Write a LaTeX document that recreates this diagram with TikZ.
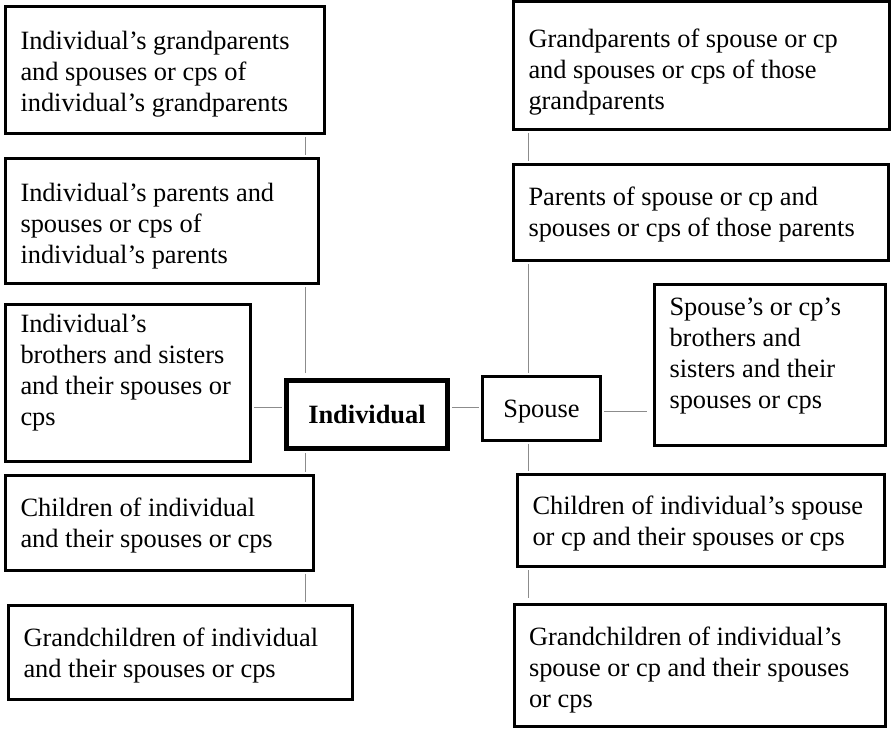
\documentclass[tikz,border=0pt]{standalone}
\usepackage{fontspec}
\setmainfont{Liberation Serif}
\usepackage{xcolor}
\usepackage{tikz}
\usetikzlibrary{positioning,calc}
\definecolor{linkgray}{RGB}{140,140,140}

\begin{document}
\begin{tikzpicture}[x=1pt, y=-1pt,
    every node/.style={font=\fontsize{26.4}{31}\selectfont},
    relbox/.style={draw=black, line width=3pt, fill=white, inner xsep=15pt, inner ysep=0pt, align=flush left},
    link/.style={linkgray, line width=1pt, shorten <=2pt, shorten >=2pt}]
  \useasboundingbox (0,0) rectangle (891,730);
  \coordinate (lt) at (305,0); \coordinate (rt) at (528.5,0);
  \coordinate (hl) at (0,407); \coordinate (hr) at (0,411);
  % individual's side
  \node[relbox, text width=289pt, text height=43pt, text depth=84pt] (gpI) at (165,70) {Individual’s grandparents\\and spouses or cps of\\individual’s grandparents};
  \node[relbox, text width=283pt, text height=43pt, text depth=82pt] (parI) at (162,221) {Individual’s parents and\\spouses or cps of\\individual’s parents};
  \node[relbox, text width=215pt, text height=27.5pt, text depth=129.5pt] (sibI) at (128,383) {Individual’s\\brothers and sisters\\and their spouses or\\cps};
  \node[relbox, line width=5pt, minimum width=161pt, inner xsep=0pt, text height=42.5pt, text depth=25.5pt] (ind) at (367,414.5) {\textbf{Individual}};
  \node[relbox, text width=278pt, text height=41pt, text depth=54pt] (chI) at (159.5,523) {Children of individual\\and their spouses or cps};
  \node[relbox, text width=314pt, text height=41pt, text depth=53pt] (gchI) at (180.5,652.5) {Grandchildren of individual\\and their spouses or cps};
  % spouse's side
  \node[relbox, text width=346pt, text height=46.5pt, text depth=81.5pt] (gpS) at (701.5,65.5) {Grandparents of spouse or cp\\and spouses or cps of those\\grandparents};
  \node[relbox, text width=345pt, text height=40.5pt, text depth=55.5pt] (parS) at (701,212.5) {Parents of spouse or cp and\\spouses or cps of those parents};
  \node[relbox, minimum width=118pt, inner xsep=0pt, text height=40.5pt, text depth=23.5pt] (sp) at (541.5,408.5) {Spouse};
  \node[relbox, text width=201pt, text height=30.5pt, text depth=130.5pt] (sibS) at (770,365) {Spouse’s or cp’s\\brothers and\\sisters and their\\spouses or cps};
  \node[relbox, text width=337pt, text height=39.5pt, text depth=52.5pt] (chS) at (701,520.5) {Children of individual’s spouse\\or cp and their spouses or cps};
  \node[relbox, text width=341pt, text height=40.5pt, text depth=81.5pt] (gchS) at (699.5,665.5) {Grandchildren of individual’s\\spouse or cp and their spouses\\or cps};
  % links
  \draw[link] (gpI.south -| lt) -- (parI.north -| lt);
  \draw[link, shorten >=5pt] (parI.south -| lt) -- (ind.north -| lt);
  \draw[link] (ind.south -| lt) -- (chI.north -| lt);
  \draw[link] (chI.south -| lt) -- (gchI.north -| lt);
  \draw[link] (sibI.east |- hl) -- (ind.west |- hl);
  \draw[link] (ind.east |- hl) -- (sp.west |- hl);
  \draw[link, shorten >=6pt] (sp.east |- hr) -- (sibS.west |- hr);
  \draw[link] (gpS.south -| rt) -- (parS.north -| rt);
  \draw[link] (parS.south -| rt) -- (sp.north -| rt);
  \draw[link] (sp.south -| rt) -- (chS.north -| rt);
  \draw[link, shorten >=5pt] (chS.south -| rt) -- (gchS.north -| rt);
\end{tikzpicture}
\end{document}
